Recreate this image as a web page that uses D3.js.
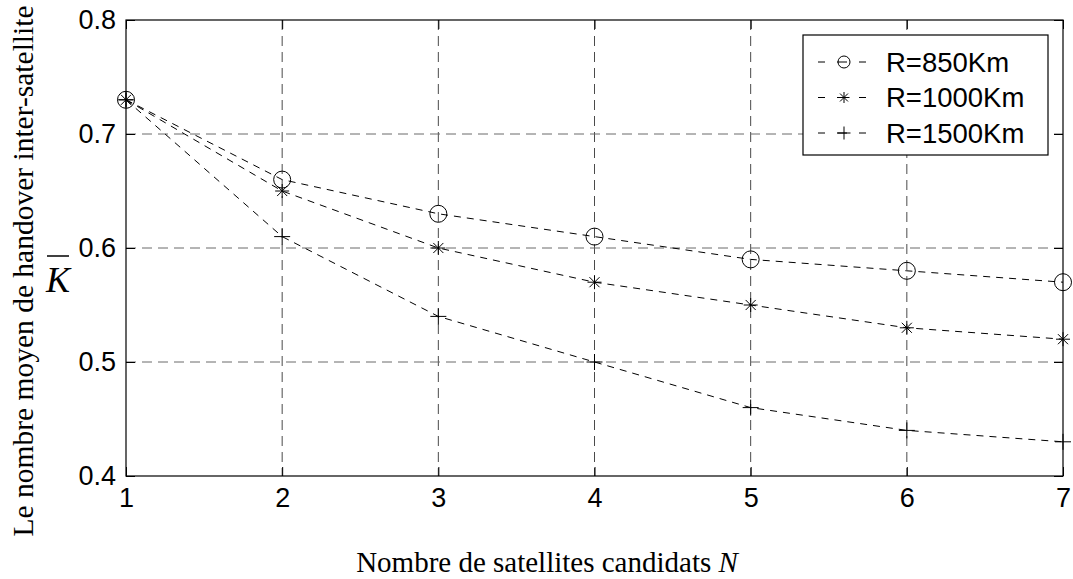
<!DOCTYPE html>
<html>
<head>
<meta charset="utf-8">
<script src="https://cdn.jsdelivr.net/npm/d3@7"></script>
<style>
  html, body { margin: 0; padding: 0; background: #fff; }
  svg { display: block; }
</style>
</head>
<body>
<svg id="chart" width="1073" height="579"></svg>
<script>
// Average inter-satellite handover count vs. number of candidate satellites
const candidates = [1, 2, 3, 4, 5, 6, 7];
const r850  = [0.73, 0.66, 0.63, 0.61, 0.59, 0.58, 0.57];
const r1000 = [0.73, 0.65, 0.60, 0.57, 0.55, 0.53, 0.52];
const r1500 = [0.73, 0.61, 0.54, 0.50, 0.46, 0.44, 0.43];
const seriesNames = ["R=850Km", "R=1000Km", "R=1500Km"];
const markerKinds = ["circle", "star", "plus"];
const yTicks = [0.4, 0.5, 0.6, 0.7, 0.8];
const xTicks = [1, 2, 3, 4, 5, 6, 7];

const series = [r850, r1000, r1500].map((vals, i) => ({
  name: seriesNames[i],
  marker: markerKinds[i],
  points: candidates.map((c, j) => ({ x: c, y: vals[j] }))
}));

const svg = d3.select("#chart");
const plotL = 126, plotR = 1063, plotT = 20, plotB = 476;
const x = d3.scaleLinear().domain([1, 7]).range([plotL, plotR]);
const y = d3.scaleLinear().domain([0.4, 0.8]).range([plotB, plotT]);

const sans = "'Liberation Sans', Arial, sans-serif";
const serif = "'Liberation Serif', 'Times New Roman', serif";

// grid
const grid = svg.append("g");
grid.selectAll("line.v").data(xTicks.slice(1, -1)).join("line")
  .attr("x1", d => x(d)).attr("x2", d => x(d))
  .attr("y1", plotT).attr("y2", plotB)
  .attr("stroke", "#4a4a4a").attr("stroke-width", 1).attr("stroke-dasharray", "10,6");
grid.selectAll("line.h").data(yTicks.slice(1, -1)).join("line")
  .attr("x1", plotL).attr("x2", plotR)
  .attr("y1", d => y(d)).attr("y2", d => y(d))
  .attr("stroke", "#6a6a6a").attr("stroke-width", 1).attr("stroke-dasharray", "10,6");

// axes with inward ticks on all four sides
const tickLen = 9;
svg.append("g").attr("transform", `translate(0,${plotB})`)
  .call(d3.axisBottom(x).tickValues(xTicks).tickSizeInner(-tickLen).tickSizeOuter(0).tickPadding(12).tickFormat(d3.format("d")))
  .call(g => g.select(".domain").remove());
svg.append("g").attr("transform", `translate(0,${plotT})`)
  .call(d3.axisTop(x).tickValues(xTicks).tickSizeInner(-tickLen).tickSizeOuter(0).tickFormat(""))
  .call(g => g.select(".domain").remove());
svg.append("g").attr("transform", `translate(${plotL},0)`)
  .call(d3.axisLeft(y).tickValues(yTicks).tickSizeInner(-tickLen).tickSizeOuter(0).tickPadding(10).tickFormat(d3.format(".1f")))
  .call(g => g.select(".domain").remove());
svg.append("g").attr("transform", `translate(${plotR},0)`)
  .call(d3.axisRight(y).tickValues(yTicks).tickSizeInner(-tickLen).tickSizeOuter(0).tickFormat(""))
  .call(g => g.select(".domain").remove());
svg.selectAll(".tick line").attr("stroke", "#000");
svg.selectAll(".tick text").attr("font-family", sans).attr("font-size", 27).attr("fill", "#000");

// series lines
const line = d3.line().x(d => x(d.x)).y(d => y(d.y));
svg.append("g").selectAll("path").data(series).join("path")
  .attr("d", d => line(d.points))
  .attr("fill", "none").attr("stroke", "#000").attr("stroke-width", 1)
  .attr("stroke-dasharray", "7,6");

// marker shapes
function drawMarker(g, kind, cx, cy, s) {
  if (kind === "circle") {
    g.append("circle").attr("cx", cx).attr("cy", cy).attr("r", s.circle)
      .attr("fill", "none").attr("stroke", "#000").attr("stroke-width", 1);
  } else if (kind === "star") {
    const a = s.star, b = a * 0.72;
    const segs = [[-a, 0, a, 0], [0, -a, 0, a], [-b, -b, b, b], [-b, b, b, -b]];
    segs.forEach(p => g.append("line")
      .attr("x1", cx + p[0]).attr("y1", cy + p[1]).attr("x2", cx + p[2]).attr("y2", cy + p[3])
      .attr("stroke", "#000").attr("stroke-width", 1));
  } else {
    const a = s.plus;
    [[-a, 0, a, 0], [0, -a, 0, a]].forEach(p => g.append("line")
      .attr("x1", cx + p[0]).attr("y1", cy + p[1]).attr("x2", cx + p[2]).attr("y2", cy + p[3])
      .attr("stroke", "#000").attr("stroke-width", 1));
  }
}

const plotSizes = { circle: 8.5, star: 7, plus: 8 };
const markers = svg.append("g");
series.forEach(s => {
  s.points.forEach(p => drawMarker(markers, s.marker, x(p.x), y(p.y), plotSizes));
});

// plot frame
svg.append("rect").attr("x", plotL).attr("y", plotT)
  .attr("width", plotR - plotL).attr("height", plotB - plotT)
  .attr("fill", "none").attr("stroke", "#000").attr("stroke-width", 1.2);

// legend
const legend = svg.append("g");
legend.append("rect").attr("x", 803).attr("y", 35).attr("width", 245).attr("height", 120)
  .attr("fill", "#fff").attr("stroke", "#000").attr("stroke-width", 1.2);
const legendSizes = { circle: 6, star: 5.5, plus: 6.5 };
series.forEach((s, i) => {
  const ly = 62 + i * 35.5;
  legend.append("line").attr("x1", 818).attr("x2", 866).attr("y1", ly).attr("y2", ly)
    .attr("stroke", "#000").attr("stroke-width", 1).attr("stroke-dasharray", "7,12,10,12,7");
  drawMarker(legend, s.marker, 844, ly, legendSizes);
  legend.append("text").attr("x", 886).attr("y", ly).attr("dy", "0.36em")
    .attr("font-family", sans).attr("font-size", 27.5).attr("fill", "#000").text(s.name);
});

// axis titles
svg.append("text").attr("x", 547).attr("y", 572)
  .attr("text-anchor", "middle").attr("font-family", serif).attr("font-size", 29).attr("fill", "#000")
  .call(t => {
    t.append("tspan").text("Nombre de satellites candidats ");
    t.append("tspan").attr("font-style", "italic").text("N");
  });

svg.append("text").attr("transform", "translate(33,271) rotate(-90)")
  .attr("text-anchor", "middle").attr("font-family", serif).attr("font-size", 29.5).attr("fill", "#000")
  .text("Le nombre moyen de handover inter-satellite");

// K-bar symbol
const kSym = svg.append("g");
kSym.append("text").attr("x", 58).attr("y", 292).attr("text-anchor", "middle")
  .attr("font-family", serif).attr("font-style", "italic").attr("font-size", 36).attr("fill", "#000")
  .text("K");
kSym.append("line").attr("x1", 47).attr("x2", 69).attr("y1", 256).attr("y2", 256)
  .attr("stroke", "#000").attr("stroke-width", 1.5);
</script>
</body>
</html>
